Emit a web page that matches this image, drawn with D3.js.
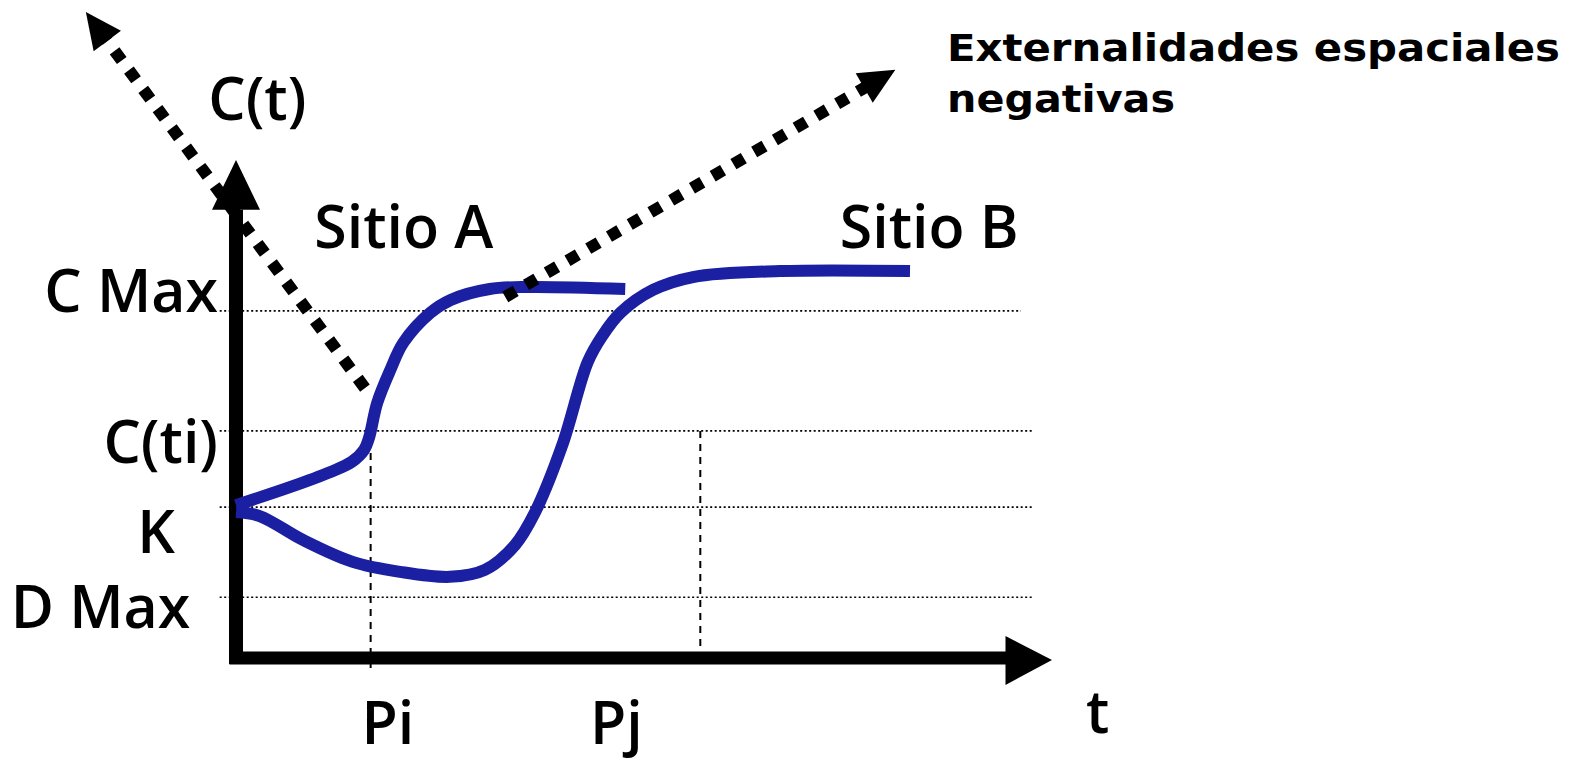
<!DOCTYPE html>
<html>
<head>
<meta charset="utf-8">
<script src="https://cdn.jsdelivr.net/npm/d3@7"></script>
<style>
  html, body { margin: 0; padding: 0; background: #fff; }
  .lbl { font-family: "Open Sans", sans-serif; font-weight: 650; font-size: 59px; fill: #000; }
  .note { font-family: "DejaVu Sans", sans-serif; font-weight: bold; font-size: 37px; fill: #000; }
</style>
</head>
<body>
<div id="graph"></div>
<script>
// niveles del eje vertical (unidades 0-100)
const levelNames = ["C Max", "C(ti)", "K", "D Max"];
const levelValues = [69.7, 45.6, 30.3, 12.2];
const levelEnds = [96.2, 97.8, 97.8, 97.8];

// momentos en el eje t
const timeNames = ["Pi", "Pj"];
const timeMarks = [16.5, 56.9];
const timeLabelAt = [18.6, 46.6];
const timeLineTop = [43.8, 45.6];

// curva del sitio A
const sitioA_t = [0, 6.6, 11.5, 14.2, 15.7, 16.3, 17.3, 18.9, 20.5, 23.8, 26.3, 31.1, 36.0, 47.7];
const sitioA_c = [30.7, 34.3, 37.3, 39.4, 41.8, 44.2, 51.2, 57.8, 63.3, 69.3, 71.9, 74.1, 74.5, 74.1];

// curva del sitio B
const sitioB_t = [0, 2.9, 8.2, 14.3, 20.1, 26.2, 30.5, 34.2, 36.6, 40.0, 43.1, 44.9, 47.1, 51.1, 56.0, 66.7, 82.6];
const sitioB_c = [29.3, 28.5, 23.7, 19.3, 17.3, 16.3, 17.7, 22.7, 29.1, 42.8, 59.4, 64.7, 69.3, 73.9, 76.5, 77.7, 77.7];

// flechas punteadas (externalidades)
const extFrom = [[15.8, 54.2], [33.0, 72.5]];
const extTo = [[-18.4, 129.7], [80.8, 118.1]];

const width = 1578, height = 762;
const blue = "#1b1fa1";

const svg = d3.select("#graph")
  .append("svg")
  .attr("width", width)
  .attr("height", height);

const x = d3.scaleLinear().domain([0, 100]).range([236, 1052]);
const y = d3.scaleLinear().domain([0, 100]).range([658, 160]);

// lineas punteadas horizontales
svg.selectAll(".grid")
  .data(levelValues)
  .join("line")
  .attr("class", "grid")
  .attr("x1", x(-2.0))
  .attr("x2", (d, i) => x(levelEnds[i]))
  .attr("y1", d => y(d))
  .attr("y2", d => y(d))
  .attr("stroke", "#000")
  .attr("stroke-width", 1.6)
  .attr("stroke-dasharray", "2,2.5");

// lineas verticales de Pi y Pj
svg.selectAll(".vline")
  .data(timeMarks)
  .join("line")
  .attr("class", "vline")
  .attr("x1", d => x(d))
  .attr("x2", d => x(d))
  .attr("y1", (d, i) => y(timeLineTop[i]))
  .attr("y2", (d, i) => i === 0 ? y(-2.4) : y(2.0))
  .attr("stroke", "#000")
  .attr("stroke-width", 2)
  .attr("stroke-dasharray", "7,6");

// ejes con flecha
svg.append("line")
  .attr("x1", x(0)).attr("x2", x(0))
  .attr("y1", y(-1.2)).attr("y2", y(90))
  .attr("stroke", "#000").attr("stroke-width", 14);
svg.append("path")
  .attr("d", `M${x(0)},${y(100)} L${x(0) - 24},${y(90)} L${x(0) + 24},${y(90)} Z`)
  .attr("fill", "#000");

svg.append("line")
  .attr("x1", x(-0.8)).attr("x2", x(94.5))
  .attr("y1", y(0)).attr("y2", y(0))
  .attr("stroke", "#000").attr("stroke-width", 13);
svg.append("path")
  .attr("d", `M${x(100)},${y(0) + 2} L${x(94.3)},${y(0) - 22} L${x(94.3)},${y(0) + 27} Z`)
  .attr("fill", "#000");

// curvas de los sitios
const line = d3.line()
  .x(d => x(d[0]))
  .y(d => y(d[1]))
  .curve(d3.curveCatmullRom.alpha(0.5));

svg.append("path")
  .datum(d3.zip(sitioB_t, sitioB_c))
  .attr("d", line)
  .attr("fill", "none")
  .attr("stroke", blue)
  .attr("stroke-width", 12);

svg.append("path")
  .datum(d3.zip(sitioA_t, sitioA_c))
  .attr("d", line)
  .attr("fill", "none")
  .attr("stroke", blue)
  .attr("stroke-width", 12);

// flechas punteadas
extFrom.forEach((p, i) => {
  const x0 = x(p[0]), y0 = y(p[1]);
  const x1 = x(extTo[i][0]), y1 = y(extTo[i][1]);
  const len = Math.hypot(x1 - x0, y1 - y0);
  const ux = (x1 - x0) / len, uy = (y1 - y0) / len;
  const head = 36, half = 17;
  const bx = x1 - ux * head, by = y1 - uy * head;
  svg.append("line")
    .attr("x1", x0).attr("y1", y0)
    .attr("x2", bx + ux * 4).attr("y2", by + uy * 4)
    .attr("stroke", "#000")
    .attr("stroke-width", 12)
    .attr("stroke-dasharray", "12,12");
  svg.append("path")
    .attr("d", `M${x1},${y1} L${bx - uy * half},${by + ux * half} L${bx + uy * half},${by - ux * half} Z`)
    .attr("fill", "#000");
});

// etiquetas del eje vertical
const levelLabelPos = [[-2.2, 1], [-2.2, 32], [-7.5, 46], [-5.6, 31]];
svg.selectAll(".ylab")
  .data(levelNames)
  .join("text")
  .attr("class", "lbl ylab")
  .attr("text-anchor", "end")
  .attr("x", (d, i) => x(levelLabelPos[i][0]))
  .attr("y", (d, i) => y(levelValues[i]) + levelLabelPos[i][1])
  .text(d => d);

// etiquetas del eje t
svg.selectAll(".tlab")
  .data(timeNames)
  .join("text")
  .attr("class", "lbl tlab")
  .attr("text-anchor", "middle")
  .attr("x", (d, i) => x(timeLabelAt[i]))
  .attr("y", y(0) + 86)
  .text(d => d);

svg.append("text").attr("class", "lbl").attr("text-anchor", "middle")
  .attr("x", x(105.6)).attr("y", y(0) + 75).text("t");

svg.append("text").attr("class", "lbl").attr("text-anchor", "start")
  .attr("x", x(-3.4)).attr("y", 120).text("C(t)");

svg.append("text").attr("class", "lbl").attr("text-anchor", "start")
  .attr("x", x(9.6)).attr("y", 248).text("Sitio A");
svg.append("text").attr("class", "lbl").attr("text-anchor", "start")
  .attr("x", x(74.0)).attr("y", 248).text("Sitio B");

svg.append("text").attr("class", "note")
  .attr("x", 947).attr("y", 61)
  .attr("textLength", 613).attr("lengthAdjust", "spacingAndGlyphs")
  .text("Externalidades espaciales");
svg.append("text").attr("class", "note")
  .attr("x", 947).attr("y", 112)
  .attr("textLength", 228).attr("lengthAdjust", "spacingAndGlyphs")
  .text("negativas");
</script>
</body>
</html>
